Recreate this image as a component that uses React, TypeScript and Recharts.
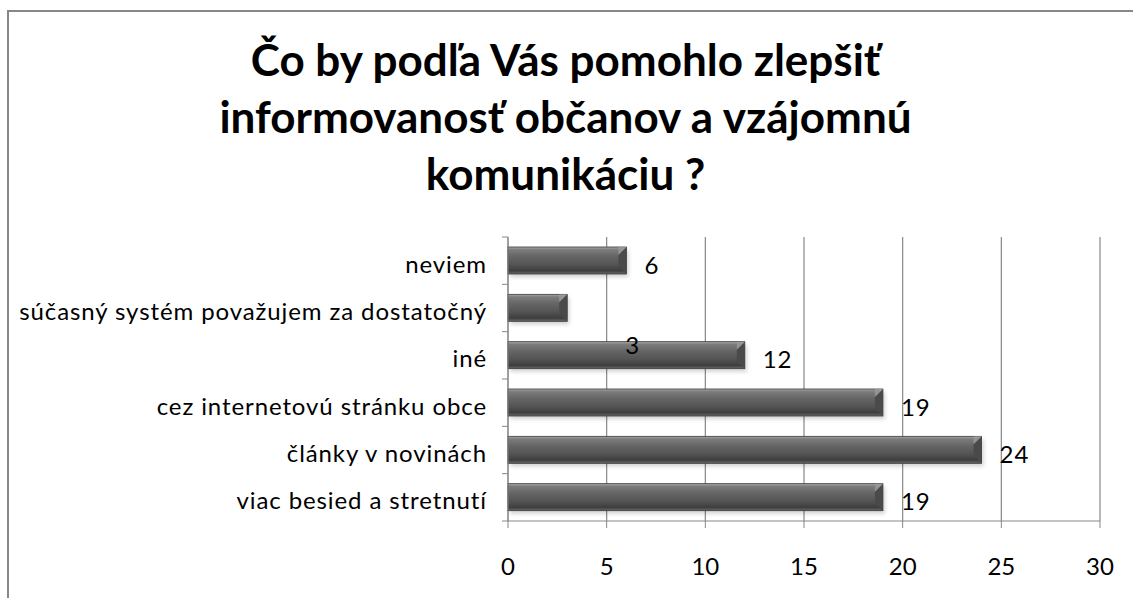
import React from 'react'
import {
  BarChart,
  Bar,
  XAxis,
  YAxis,
  CartesianGrid,
  LabelList
} from 'recharts'

const categories = [
  'neviem',
  'súčasný systém považujem za dostatočný',
  'iné',
  'cez internetovú stránku obce',
  'články v novinách',
  'viac besied a stretnutí'
]
const answers = [6, 3, 12, 19, 24, 19]
const xTicks = [0, 5, 10, 15, 20, 25, 30]

const titleLines = [
  'Čo by podľa Vás pomohlo zlepšiť',
  'informovanosť občanov a vzájomnú',
  'komunikáciu ?'
]

const data = categories.map((name, i) => ({ name, value: answers[i] }))

const W = 1133
const H = 598
const margin = { top: 237, right: 33, bottom: 0, left: 0 }
const xAxisHeight = 77
const yAxisWidth = 508
const band = (H - margin.top - xAxisHeight) / categories.length
const axisColor = '#878787'
const font = 'Lato, "Open Sans", sans-serif'

const YTick = (props: any) => {
  const { x, y, payload, index } = props
  const axisX = yAxisWidth
  return (
    <g>
      <text
        x={x}
        y={y}
        dy={12}
        textAnchor="end"
        fill="#000"
        fontSize={24}
        letterSpacing={0.9}
        fontFamily={font}
      >
        {payload.value}
      </text>
      <line x1={axisX - 6} x2={axisX} y1={y - band / 2} y2={y - band / 2} stroke={axisColor} />
      {index === categories.length - 1 && (
        <line x1={axisX - 6} x2={axisX} y1={y + band / 2} y2={y + band / 2} stroke={axisColor} />
      )}
    </g>
  )
}

const BevelBar = (props: any) => {
  const { x, y, width, height } = props
  if (!width || width <= 0) return null
  const b = Math.min(8, width / 3)
  return (
    <g>
      <rect x={x + 2} y={y + 3} width={width} height={height} fill="#000" opacity={0.18} filter="url(#barShadow)" />
      <rect x={x} y={y} width={width} height={height} fill="url(#barFill)" stroke="#3a3a3a" strokeWidth={0.8} />
      <polygon
        points={`${x + width - b},${y + b} ${x + width},${y} ${x + width},${y + height} ${x + width - b},${y + height - b}`}
        fill="#4a4a4a"
      />
      <polygon
        points={`${x + width - b},${y + b} ${x + width},${y} ${x + width - b},${y}`}
        fill="#9a9a9a"
        opacity={0.8}
      />
    </g>
  )
}

// Excel left the label of the short bar drifted down into the next row
const BarValue = (props: any) => {
  const { x, y, width, height, value, index } = props
  const drift = index === 1 ? { dx: 58, dy: 46 } : { dx: 18, dy: 13 }
  return (
    <text
      x={x + width + drift.dx}
      y={y + height / 2 + drift.dy}
      fill="#000"
      fontSize={24}
      letterSpacing={0.9}
      fontFamily={font}
    >
      {value}
    </text>
  )
}

export default function App() {
  return (
    <div style={{ position: 'absolute', left: 0, top: 0, width: W, height: H, overflow: 'hidden', background: '#fff' }}>
      <div
        style={{
          position: 'absolute',
          left: 7,
          top: 10,
          width: W + 40,
          height: H + 40,
          border: `2px solid ${axisColor}`
        }}
      />
      <div
        style={{
          position: 'absolute',
          left: 0,
          top: 31,
          width: 1131,
          textAlign: 'center',
          fontFamily: font,
          fontWeight: 700,
          fontSize: 44,
          lineHeight: '57px',
          color: '#000'
        }}
      >
        {titleLines.map((t) => (
          <div key={t}>{t}</div>
        ))}
      </div>
      <div style={{ position: 'absolute', left: 0, top: 0 }}>
        <BarChart width={W} height={H} data={data} layout="vertical" margin={margin} barSize={27}>
          <defs>
            <linearGradient id="barFill" x1="0" y1="0" x2="0" y2="1">
              <stop offset="0" stopColor="#a8a8a8" />
              <stop offset="0.1" stopColor="#7c7c7c" />
              <stop offset="0.35" stopColor="#656565" />
              <stop offset="0.65" stopColor="#545454" />
              <stop offset="0.88" stopColor="#3e3e3e" />
              <stop offset="1" stopColor="#6a6a6a" />
            </linearGradient>
            <filter id="barShadow" x="-5%" y="-30%" width="110%" height="160%">
              <feGaussianBlur stdDeviation="2" />
            </filter>
          </defs>
          <CartesianGrid horizontal={false} stroke={axisColor} strokeWidth={1.2} />
          <XAxis
            type="number"
            domain={[0, 30]}
            ticks={xTicks}
            interval={0}
            height={xAxisHeight}
            stroke={axisColor}
            tickSize={7}
            tickMargin={30}
            tick={{ fill: '#000', fontSize: 24, fontFamily: font }}
          />
          <YAxis
            type="category"
            dataKey="name"
            width={yAxisWidth}
            stroke={axisColor}
            tickLine={false}
            tickSize={6}
            tickMargin={15}
            interval={0}
            tick={<YTick />}
          />
          <Bar dataKey="value" shape={<BevelBar />} isAnimationActive={false}>
            <LabelList dataKey="value" content={<BarValue />} />
          </Bar>
        </BarChart>
      </div>
    </div>
  )
}
